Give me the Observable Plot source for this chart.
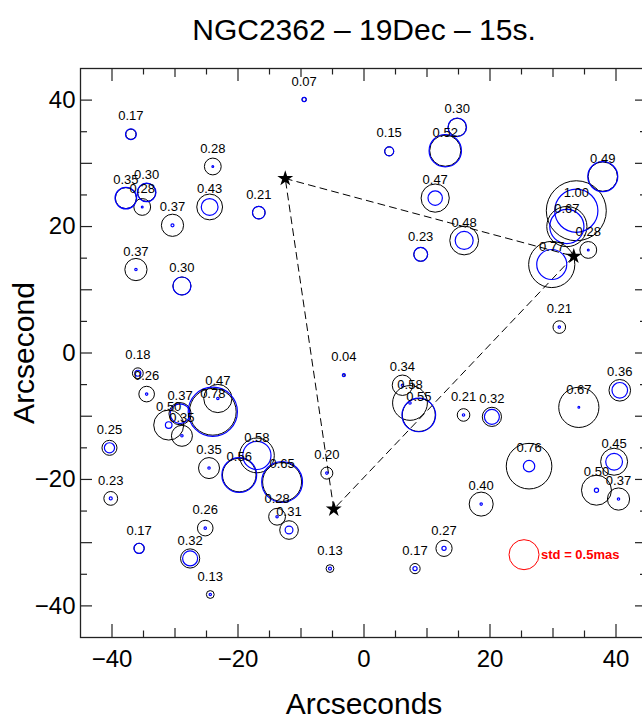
<!DOCTYPE html>
<html>
<head>
<meta charset="utf-8">
<script src="https://cdn.jsdelivr.net/npm/d3@7"></script>
<script src="https://cdn.jsdelivr.net/npm/@observablehq/plot@0.6"></script>
<style>
  html, body { margin: 0; padding: 0; background: white; overflow: hidden; }
</style>
</head>
<body>
<div id="chart"></div>
<script>
// Star offsets (arcsec), label value (black circle, mas) and blue circle value (mas)
const starX = [-9.5,-37.0,-24.0,-37.8,-34.5,-35.2,-30.4,-24.5,-16.7,4.0,14.8,12.9,11.3,15.9,9.0,37.9,33.7,32.2,35.6,29.8,31.0,40.6,34.1,15.8,20.3,26.2,39.7,36.9,40.4,18.6,12.7,8.1,-5.4,-5.9,-11.9,-13.8,-13.0,-17.0,-19.8,-24.6,-24.0,-23.2,-36.2,-28.9,-35.9,-34.5,-29.2,-31.0,-28.9,-40.4,-40.2,-35.7,-25.2,-27.6,-24.4,-3.2,6.1,7.3,8.7];
const starY = [40.1,34.6,29.5,24.5,25.4,23.1,20.2,23.1,22.2,31.9,35.7,32.0,24.5,17.8,15.6,27.9,22.5,20.0,16.3,14.0,4.1,-5.9,-8.6,-9.8,-10.1,-17.9,-17.2,-21.7,-23.1,-23.9,-30.9,-34.1,-34.1,-19.0,-28.0,-25.9,-20.4,-16.2,-19.3,-18.2,-9.3,-7.2,13.2,10.6,-3.2,-6.5,-9.6,-11.4,-13.1,-15.0,-23.0,-30.9,-27.7,-32.5,-38.2,-3.5,-5.1,-7.9,-9.8];
const labelVal = [0.07,0.17,0.28,0.35,0.30,0.28,0.37,0.43,0.21,0.15,0.30,0.52,0.47,0.48,0.23,0.49,1.00,0.67,0.28,0.77,0.21,0.36,0.67,0.21,0.32,0.76,0.45,0.50,0.37,0.40,0.27,0.17,0.13,0.20,0.31,0.28,0.65,0.58,0.56,0.35,0.78,0.47,0.37,0.30,0.18,0.26,0.37,0.50,0.35,0.25,0.23,0.17,0.26,0.32,0.13,0.04,0.34,0.58,0.55];
const blueVal = [0.07,0.18,0.03,0.36,0.31,0.03,0.05,0.28,0.21,0.15,0.31,0.54,0.24,0.30,0.23,0.50,0.72,0.57,0.03,0.50,0.04,0.26,0.03,0.04,0.25,0.19,0.28,0.07,0.04,0.04,0.07,0.07,0.05,0.04,0.13,0.04,0.68,0.47,0.58,0.04,0.82,0.04,0.04,0.30,0.10,0.04,0.33,0.11,0.04,0.17,0.05,0.17,0.04,0.25,0.04,0.05,0.04,0.04,0.56];

// Reference stars (triangle vertices)
const refX = [-12.5, 33.3, -4.8];
const refY = [27.6, 15.3, -24.7];

// Scale circle
const stdX = [25.4], stdY = [-31.9], stdVal = [0.5];
const stdText = "std = 0.5mas";

const titleText = "NGC2362 \u2013 19Dec \u2013 15s.";
const xTitle = "Arcseconds";
const yTitle = "Arcsecond";

const tickLabels = [-40, -20, 0, 20, 40];
const xTicks10 = [-30, -10, 10, 30];
const ticks5 = [-35, -25, -15, -5, 5, 15, 25, 35];
const yTicks10 = [-40, -30, -20, -10, 0, 10, 20, 30, 40];

const stars = starX.map((x, i) => ({x, y: starY[i], v: labelVal[i], b: blueVal[i]}));
const refs = refX.map((x, i) => ({x, y: refY[i]}));
const tri = [...refs, refs[0]];
const std = stdX.map((x, i) => ({x, y: stdY[i], v: stdVal[i]}));

const W = 648, H = 720, ML = 80, MR = 1, MT = 68, MB = 83;
const FW = W - ML - MR, FH = H - MT - MB;
const axisColor = "#222";

const chart = Plot.plot({
  width: W, height: H,
  marginLeft: ML, marginRight: MR, marginTop: MT, marginBottom: MB,
  x: {domain: [-45, 45], axis: null},
  y: {domain: [-45, 45], axis: null},
  r: {type: "linear", domain: [0, 1], range: [0, 30]},
  style: {fontFamily: "'Liberation Sans', Arial, Helvetica, sans-serif", background: "white", maxWidth: "none", color: "black"},
  marks: [
    Plot.frame({stroke: axisColor, strokeWidth: 1.3}),
    // inward ticks, bottom
    Plot.ruleX(tickLabels, {x: d => d, insetTop: FH - 13, stroke: axisColor, strokeWidth: 1.2}),
    Plot.ruleX(xTicks10, {x: d => d, insetTop: FH - 9, stroke: axisColor, strokeWidth: 1.2}),
    Plot.ruleX(ticks5, {x: d => d, insetTop: FH - 6.5, stroke: axisColor, strokeWidth: 1.2}),
    // top
    Plot.ruleX(tickLabels, {x: d => d, insetBottom: FH - 13, stroke: axisColor, strokeWidth: 1.2}),
    Plot.ruleX(xTicks10, {x: d => d, insetBottom: FH - 9, stroke: axisColor, strokeWidth: 1.2}),
    Plot.ruleX(ticks5, {x: d => d, insetBottom: FH - 6.5, stroke: axisColor, strokeWidth: 1.2}),
    // left
    Plot.ruleY(yTicks10, {y: d => d, insetRight: FW - 12, stroke: axisColor, strokeWidth: 1.2}),
    Plot.ruleY(ticks5, {y: d => d, insetRight: FW - 7, stroke: axisColor, strokeWidth: 1.2}),
    // right
    Plot.ruleY(yTicks10, {y: d => d, insetLeft: FW - 12, stroke: axisColor, strokeWidth: 1.2}),
    Plot.ruleY(ticks5, {y: d => d, insetLeft: FW - 7, stroke: axisColor, strokeWidth: 1.2}),
    Plot.axisX(tickLabels, {anchor: "bottom", tickSize: 0, tickPadding: 12, fontSize: 24, label: null}),
    Plot.axisY(tickLabels, {anchor: "left", tickSize: 0, tickPadding: 5, fontSize: 24, label: null}),
    // triangle
    Plot.line(tri, {x: "x", y: "y", stroke: "black", strokeWidth: 1, strokeDasharray: "7,5"}),
    // black circles
    Plot.dot(stars, {x: "x", y: "y", r: "v", stroke: "black", strokeWidth: 1, fill: "none"}),
    // blue circles
    Plot.dot(stars, {x: "x", y: "y", r: "b", stroke: "#0000ff", strokeWidth: 1.2, fill: "none"}),
    Plot.text(stars, {x: "x", y: "y", text: d => d.v.toFixed(2), dy: -18, fontSize: 13, fill: "black"}),
    // reference stars
    Plot.dot(refs, {x: "x", y: "y", symbol: "star", r: 5, fill: "black", stroke: "none"}),
    // std circle
    Plot.dot(std, {x: "x", y: "y", r: "v", stroke: "red", strokeWidth: 1, fill: "none"}),
    Plot.text(std, {x: "x", y: "y", text: () => stdText, dx: 17, textAnchor: "start", fontSize: 13, fontWeight: "bold", fill: "red"}),
    // titles
    Plot.text([titleText], {frameAnchor: "top", dy: -38, lineAnchor: "middle", fontSize: 30, fill: "black"}),
    Plot.text([xTitle], {frameAnchor: "bottom", dy: 67, lineAnchor: "middle", fontSize: 30, fill: "black"}),
    Plot.text([yTitle], {frameAnchor: "left", dx: -56, rotate: -90, textAnchor: "middle", lineAnchor: "middle", fontSize: 30, fill: "black"})
  ]
});
document.getElementById("chart").appendChild(chart);
</script>
</body>
</html>
